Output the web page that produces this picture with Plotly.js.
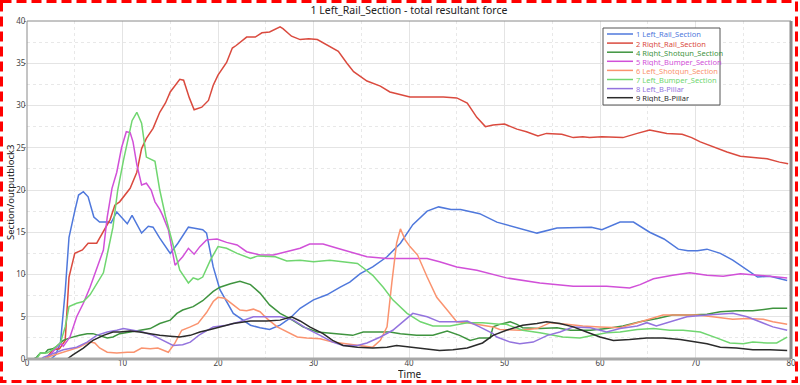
<!DOCTYPE html>
<html>
<head>
<meta charset="utf-8">
<script src="https://cdn.plot.ly/plotly-3.0.1.min.js"></script>
<style>
html,body{margin:0;padding:0;background:#fff;}
#wrap{position:relative;width:800px;height:385px;}
#chart{width:800px;height:385px;}
#frame{position:absolute;left:0;top:0;pointer-events:none;}
</style>
</head>
<body>
<div id="wrap">
<div id="chart"></div>
<svg id="frame" width="800" height="385"><rect x="1.5" y="1.5" width="795" height="380" fill="none" stroke="#ff0000" stroke-width="3" stroke-dasharray="10,5"/></svg>
</div>
<script>
// ---- data ----
const seriesNames = ["1 Left_Rail_Section","2 Right_Rail_Section","4 Right_Shotgun_Section","5 Right_Bumper_Section","6 Left_Shotgun_Section","7 Left_Bumper_Section","8 Left_B-Pillar","9 Right_B-Pillar"];

const t1 = [0,2.5,3.0,3.5,4.0,4.4,5.0,5.4,5.9,6.4,7.0,7.6,8.5,8.8,9.4,10.5,11.0,12.0,12.7,13.2,13.9,15.0,15.8,16.9,17.4,18.4,18.8,19.5,20.2,21.6,23.4,24.4,25.4,26.5,27.5,28.6,30.0,31.4,32.8,33.8,34.9,36.2,37.7,39.1,40.4,41.9,43.1,44.4,45.4,47.4,49.2,51.6,53.4,55.5,57.9,59.1,60.2,62.1,63.5,65.2,66.7,68.2,69.2,70.2,71.2,72.6,73.9,75.4,76.5,77.8,79.6];
const v1 = [0,0,0.5,1.9,8,14.4,17.5,19.4,19.8,19.2,16.8,16.2,16.2,16.1,17.4,16.0,17.0,14.9,15.7,15.6,14.3,12.5,13.7,15.6,15.5,15.3,14.9,10.9,8.2,5.4,4.0,3.7,3.5,4.0,4.8,6.0,7.0,7.6,8.5,9.1,10.1,10.9,12.1,13.7,15.9,17.5,18.0,17.7,17.7,17.2,16.2,15.5,14.9,15.5,15.6,15.6,15.3,16.2,16.2,15.0,14.2,13.0,12.8,12.8,13.0,12.5,11.7,10.5,9.7,9.8,9.3];

const t2 = [0,1.8,2.1,2.7,3.4,4.0,4.4,5.0,5.8,6.4,7.3,8.2,8.7,9.2,9.7,10.8,11.5,12.0,12.5,13.2,13.9,14.5,15.0,16.0,16.4,17.0,17.5,18.3,19.0,19.5,20.0,20.9,21.5,21.9,23.0,23.9,24.6,25.4,26.5,26.8,27.7,28.6,29.5,30.4,31.4,32.6,33.5,34.2,35.6,37.0,38.0,39.1,40.1,42.2,43.6,45.0,46.1,47.1,48.0,48.8,50.0,51.3,52.3,53.5,54.4,56.0,57.2,58.2,58.9,60.2,61.4,62.4,63.9,65.2,66.1,67.0,68.6,69.6,70.5,71.8,73.3,74.7,76.0,77.5,78.8,79.7];
const v2 = [0,0,0.2,1.1,1.2,2.2,9.7,12.5,12.9,13.7,13.7,15.5,16.5,18.2,18.6,20.2,22.1,24.9,26.1,27.3,29.2,30.3,31.6,33.1,33.0,30.9,29.5,29.8,30.6,32.4,33.6,35.1,36.8,37.1,38.1,38.1,38.6,38.7,39.3,39.1,38.2,37.8,37.9,37.8,37.2,36.4,35.0,34.0,32.9,32.3,31.6,31.3,31.0,31.0,31.0,30.9,30.3,28.6,27.5,27.7,27.8,27.2,26.9,26.4,26.7,26.6,26.2,26.3,26.2,26.3,26.2,26.2,26.7,27.1,26.9,26.7,26.6,26.2,25.7,25.1,24.5,24.0,23.9,23.7,23.3,23.1];

const t4 = [0,0.7,1.0,1.4,1.9,2.2,2.7,3.1,3.8,4.5,5.5,6.3,6.9,7.6,8.4,9.0,9.7,10.8,11.8,12.9,13.9,15.0,15.7,16.3,17.4,18.4,19.5,20.2,21.3,22.3,23.4,24.4,25.4,26.5,27.5,28.9,30.4,32.0,34.1,35.2,36.6,38.0,39.1,40.8,42.5,44.0,45.3,46.4,47.4,48.5,48.8,49.5,50.6,51.3,51.9,53.7,55.5,56.9,59.0,60.7,62.4,64.2,66.0,67.6,69.4,71.2,72.6,74.3,76.0,77.5,78.1,79.6];
const v4 = [0,0,0.2,0.7,0.7,1.1,1.2,1.5,2.2,2.5,2.8,3.0,3.0,2.8,2.5,2.6,3.0,3.2,3.4,3.6,4.2,4.6,5.4,5.8,6.2,6.9,8.0,8.5,8.9,9.2,8.8,7.8,6.4,5.4,4.8,3.8,3.2,3.0,2.8,3.2,3.2,3.2,3.0,2.8,2.8,3.3,2.8,2.2,2.5,2.5,3.8,4.1,4.4,4.1,3.7,3.6,3.7,3.4,3.4,3.6,3.9,4.4,4.8,5.2,5.2,5.3,5.6,5.7,5.7,5.9,6.0,6.0];

const t5 = [0,2.0,2.3,3.0,3.5,3.8,4.5,5.2,5.9,6.6,7.4,8.0,8.4,8.9,9.4,9.9,10.4,10.8,11.1,11.5,12.0,12.5,13.0,13.4,13.9,14.2,14.8,15.5,16.3,16.9,17.5,18.1,18.8,19.9,20.9,22.0,23.0,24.4,25.8,27.2,28.6,29.6,31.0,32.5,33.8,35.6,37.7,39.8,41.9,43.2,45.0,47.1,49.5,50.2,53.7,57.2,60.7,63.1,64.2,65.6,67.6,69.4,71.2,72.9,74.7,76.4,78.1,79.6];
const v5 = [0,0,0.3,1.2,1.9,1.5,2.6,5.0,6.6,8.5,10.9,12.9,16.8,20.2,22.1,25.0,26.9,26.8,25.7,23.0,20.6,20.8,20.0,18.6,17.7,17.0,15.3,11.1,12.1,13.1,12.4,13.3,14.1,14.2,13.8,13.5,12.7,12.3,12.3,12.7,13.1,13.6,13.6,13.1,12.7,12.1,11.9,11.9,11.9,11.5,10.9,10.5,9.8,9.6,9.0,8.6,8.6,8.4,8.8,9.5,9.9,10.2,9.9,9.8,10.1,9.9,9.7,9.6];

const t6 = [0,1.8,2.1,2.7,3.8,4.8,5.5,6.3,6.6,7.1,7.6,8.4,9.4,10.5,11.2,12.0,12.9,13.7,14.8,15.5,16.2,17.1,17.9,18.8,19.5,20.0,20.7,21.6,22.3,23.0,23.7,24.4,25.1,26.2,27.2,28.3,29.3,30.7,32.0,33.5,34.9,36.2,37.0,37.7,38.2,38.7,39.1,39.6,40.1,40.9,41.9,42.9,44.0,45.0,46.1,47.4,48.8,49.5,51.6,53.4,54.8,56.5,58.2,60.0,62.1,63.9,65.2,66.6,68.4,70.2,71.8,73.9,75.4,77.1,78.1,79.6];
const v6 = [0,0,0.2,0.4,0.8,1.1,1.4,1.9,2.0,1.9,1.3,0.8,0.7,0.8,0.8,1.3,1.2,1.3,0.8,1.9,3.4,3.8,4.2,5.5,6.8,7.3,7.2,6.4,5.8,5.7,5.9,5.6,4.8,3.8,3.2,2.6,2.5,2.4,2.0,1.8,1.6,1.4,2.2,3.8,9.0,13.7,15.4,14.1,13.3,12.3,9.7,7.3,5.8,4.4,4.3,4.1,3.8,3.5,3.4,3.6,4.3,4.1,3.9,3.8,3.7,4.3,4.7,5.2,5.2,5.2,5.0,4.7,4.8,4.7,4.4,4.1];

const t7 = [0,1.0,1.4,2.1,2.7,3.5,4.0,4.4,5.2,5.9,6.6,7.4,8.0,8.5,9.0,9.5,10.1,11.0,11.5,12.0,12.5,13.4,13.9,14.5,15.3,16.0,16.9,17.4,17.9,18.4,19.2,20.0,20.9,22.0,23.4,24.2,26.0,27.2,28.6,30.0,31.7,33.5,34.6,35.2,36.2,37.3,38.3,39.8,41.2,42.5,44.3,46.1,47.7,49.5,50.2,51.9,53.7,56.1,57.9,59.3,60.7,62.1,63.9,65.6,67.3,68.7,70.5,72.2,73.6,75.0,76.0,77.5,78.5,79.6];
const v7 = [0,0,0.7,0.7,1.1,1.9,3.8,6.2,6.6,6.8,7.6,9.0,10.2,12.9,15.6,20.0,23.5,28.2,29.2,27.9,23.9,23.4,20.0,16.9,13.3,10.5,9.0,9.6,9.4,9.7,11.7,13.3,13.1,12.5,11.9,12.2,12.1,11.6,11.7,11.5,11.7,11.4,11.3,10.8,9.9,8.5,7.0,5.4,4.4,3.9,3.9,4.3,4.3,4.1,4.1,3.4,3.1,2.6,2.5,2.8,3.1,3.2,3.5,3.6,3.4,3.4,3.2,2.5,1.9,1.8,2.0,1.9,1.9,2.6];

const t8 = [0,1.5,1.7,2.7,3.8,5.2,6.3,7.3,8.4,9.4,10.1,11.1,12.1,13.2,14.2,15.3,16.3,17.1,18.1,19.5,20.9,22.3,23.7,25.1,26.5,27.9,29.3,30.7,32.0,33.1,34.6,35.6,37.0,38.3,39.4,40.4,41.9,43.2,45.0,46.1,47.4,48.8,49.2,50.6,51.6,53.0,54.5,55.8,57.2,59.0,60.7,62.1,63.9,64.9,65.9,67.3,69.1,71.2,72.6,73.9,75.4,76.8,78.1,79.6];
const v8 = [0,0,0.2,0.6,1.1,1.4,2.0,2.8,3.2,3.4,3.6,3.4,3.2,2.8,2.2,1.6,1.7,2.0,2.9,3.8,4.0,4.4,5.0,5.0,5.0,4.6,3.6,2.8,2.0,1.6,1.6,1.9,2.6,3.4,4.4,5.4,5.0,4.4,4.4,4.5,3.8,3.0,2.6,2.0,1.8,2.0,2.8,3.2,3.8,3.7,3.2,3.6,3.9,4.3,3.9,4.4,5.0,5.2,5.3,5.4,5.0,4.4,3.8,3.4];

const t9 = [0,4.2,4.8,5.9,6.9,8.0,9.0,9.7,10.8,11.8,12.9,13.9,15.0,16.0,17.1,18.1,19.2,20.2,21.6,23.4,25.1,26.5,27.7,28.6,29.6,31.0,32.0,33.1,34.6,36.2,37.7,38.7,40.1,41.9,43.2,44.6,46.1,47.7,48.8,50.2,51.9,53.4,54.4,55.8,57.2,58.6,60.0,61.4,63.1,64.9,66.6,68.4,69.7,71.2,72.6,74.3,76.0,77.8,79.6];
const v9 = [0,0,0.5,1.3,2.2,2.8,3.2,3.2,3.3,3.2,3.0,2.8,2.7,2.6,2.8,3.2,3.5,3.8,4.2,4.5,4.5,4.6,5.0,4.5,3.8,3.0,2.2,1.6,1.4,1.3,1.4,1.6,1.4,1.1,1.0,1.1,1.3,1.9,2.8,3.4,4.0,4.2,4.4,4.2,3.8,3.2,2.6,2.2,2.3,2.5,2.5,2.3,2.1,1.8,1.4,1.3,1.1,1.1,1.0];

const xTickVals = [0,10,20,30,40,50,60,70,80];
const yTickVals = [0,5,10,15,20,25,30,35,40];
const chartTitle = '1 Left_Rail_Section - total resultant force';
const xTitle = 'Time';
const yTitle = 'Section/outputblock3';

// ---- style ----
const colors = ["#4f78dc","#da4a3e","#3f943f","#d150d8","#fa936f","#70d670","#9373de","#2b2b2b"];
const times = [t1,t2,t4,t5,t6,t7,t8,t9];
const vals = [v1,v2,v4,v5,v6,v7,v8,v9];
const FONT = "Noto Sans, Open Sans, DejaVu Sans, sans-serif";

const traces = seriesNames.map((n,i)=>({
  type:'scatter', mode:'lines', name:n, x:times[i], y:vals[i],
  line:{color:colors[i], width:1.5}, showlegend:false, hoverinfo:'skip'
}));

const W = 800, H = 385, ml = 27, mr = 9, mt = 21, mb = 26;
const pw = W-ml-mr, ph = H-mt-mb;
const px = p => (p-ml)/pw;
const py = p => 1-(p-mt)/ph;
const shapes = [];
const annotations = [];
// compact legend (drawn from seriesNames/colors)
const legL = 603, legR = 720, legT = 28, legB = 105, rowH = 9.1, row0 = 34;
shapes.push({type:'rect', xref:'paper', yref:'paper', x0:px(legL), x1:px(legR), y0:py(legB), y1:py(legT), line:{color:'#555', width:1}, fillcolor:'#ffffff', layer:'above'});
seriesNames.forEach((n,i)=>{
  const yy = row0 + i*rowH;
  shapes.push({type:'line', xref:'paper', yref:'paper', x0:px(607), x1:px(633), y0:py(yy), y1:py(yy), line:{color:colors[i], width:1.5}, layer:'above'});
  annotations.push({xref:'paper', yref:'paper', x:px(634), y:py(yy), xanchor:'left', yanchor:'middle', text:n, showarrow:false, height:9, valign:'middle', font:{family:FONT, size:7.5, color:colors[i]}});
});
// axis titles
annotations.push({xref:'paper', yref:'paper', x:px(409), y:py(374), xanchor:'center', yanchor:'middle', text:xTitle, showarrow:false, height:10, font:{family:FONT, size:10, color:'#222'}});
annotations.push({xref:'paper', yref:'paper', x:px(10), y:py(193), xanchor:'center', yanchor:'middle', text:yTitle, textangle:-90, showarrow:false, font:{family:FONT, size:9.5, color:'#222'}});
// frame: thin top/left, thicker right/bottom
shapes.push({type:'line', xref:'paper', yref:'paper', x0:0, x1:1, y0:1, y1:1, line:{color:'#8a8a8a', width:1}, layer:'above'});
shapes.push({type:'line', xref:'paper', yref:'paper', x0:0, x1:0, y0:0, y1:1, line:{color:'#8a8a8a', width:1}, layer:'above'});
shapes.push({type:'line', xref:'paper', yref:'paper', x0:0, x1:1, y0:0, y1:0, line:{color:'#a8a8a8', width:3}, layer:'above'});
shapes.push({type:'line', xref:'paper', yref:'paper', x0:1, x1:1, y0:0, y1:1, line:{color:'#8a8a8a', width:3}, layer:'above'});

const layout = {
  width:W, height:H,
  margin:{l:ml, r:mr, t:mt, b:mb, pad:0},
  paper_bgcolor:'#ffffff', plot_bgcolor:'#ffffff',
  font:{family:FONT, size:9, color:'#444'},
  title:{text:chartTitle, x:0.5, xref:'paper', xanchor:'center', y:1-10/H, yanchor:'middle', font:{family:FONT, size:10.5, color:'#222'}},
  xaxis:{range:[0,80], tickvals:xTickVals, ticktext:xTickVals.map(String), showgrid:true, gridcolor:'#e4e4e4', gridwidth:1,
    minor:{dtick:5, tick0:0, showgrid:true, gridcolor:'#e8e8e8', griddash:'dot', ticks:''},
    zeroline:false, showline:false, ticks:'', ticklabelstandoff:-2, tickfont:{family:FONT,size:8,color:'#444'}, automargin:false},
  yaxis:{range:[0,40], tickvals:yTickVals, ticktext:yTickVals.map(String), showgrid:true, gridcolor:'#e4e4e4', gridwidth:1,
    minor:{dtick:2.5, tick0:0, showgrid:true, gridcolor:'#e8e8e8', griddash:'dot', ticks:''},
    zeroline:false, showline:false, ticks:'outside', ticklen:2, tickcolor:'#999', ticklabelstandoff:-3, tickfont:{family:FONT,size:8,color:'#444'}, automargin:false},
  shapes:shapes, annotations:annotations, showlegend:false
};
Plotly.newPlot('chart', traces, layout, {staticPlot:true, displayModeBar:false});
</script>
</body>
</html>
